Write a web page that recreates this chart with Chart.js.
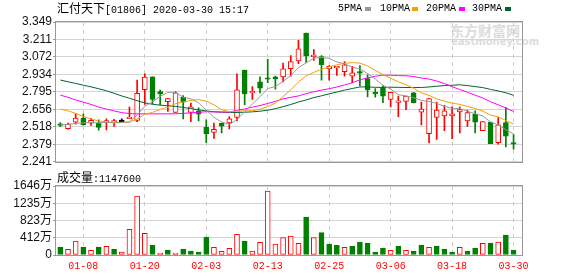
<!DOCTYPE html>
<html><head><meta charset="utf-8">
<script src="https://cdn.jsdelivr.net/npm/chart.js@4.4.1/dist/chart.umd.min.js"></script>
<style>
html,body{margin:0;padding:0;background:#fff;}
#wrap{position:relative;width:578px;height:276px;overflow:hidden;background:#fff;}
canvas{position:absolute;left:0;}
.t{position:absolute;white-space:nowrap;font-family:"Liberation Mono",monospace;font-size:10px;line-height:14px;color:#000;}
.c{font-family:"Noto Sans CJK SC";font-size:12px;}
.sq{position:absolute;width:6px;height:4px;}
.wm{position:absolute;white-space:nowrap;color:#dcdcdc;font-family:"Noto Sans CJK SC";font-weight:bold;}
</style></head>
<body><div id="wrap">
<div class="wm" style="left:450px;top:21px;font-size:14px;line-height:18px;">东方财富网</div>
<div class="wm" style="left:451px;top:37px;font-size:10px;line-height:10px;font-family:'DejaVu Sans';">eastmoney.com</div>
<canvas id="k" width="578" height="170" style="top:0"></canvas>
<canvas id="v" width="578" height="106" style="top:170px"></canvas>
<div class="t" style="left:57px;top:1px"><span class="c">汇付天下</span>[01806] 2020-03-30 15:17</div>
<div class="t" style="left:338px;top:2px">5PMA</div><div class="sq" style="left:365px;top:7px;background:#999"></div>
<div class="t" style="left:380px;top:2px">10PMA</div><div class="sq" style="left:412px;top:7px;background:#f5a000"></div>
<div class="t" style="left:426px;top:2px">20PMA</div><div class="sq" style="left:459px;top:7px;background:#ff00ff"></div>
<div class="t" style="left:472px;top:2px">30PMA</div><div class="sq" style="left:505px;top:7px;background:#00662e"></div>
<div class="t" style="left:57px;top:170px"><span class="c">成交量</span>:1147600</div>
</div>
<script>
const dates = ["2020-01-03","2020-01-06","2020-01-07","2020-01-08","2020-01-09","2020-01-10","2020-01-13","2020-01-14","2020-01-15","2020-01-16","2020-01-17","2020-01-20","2020-01-21","2020-01-22","2020-01-23","2020-01-24","2020-01-29","2020-01-30","2020-01-31",
"2020-02-03","2020-02-04","2020-02-05","2020-02-06","2020-02-07","2020-02-10","2020-02-11","2020-02-12","2020-02-13","2020-02-14","2020-02-17","2020-02-18","2020-02-19","2020-02-20","2020-02-21","2020-02-24","2020-02-25","2020-02-26","2020-02-27","2020-02-28",
"2020-03-02","2020-03-03","2020-03-04","2020-03-05","2020-03-06","2020-03-09","2020-03-10","2020-03-11","2020-03-12","2020-03-13","2020-03-16","2020-03-17","2020-03-18","2020-03-19","2020-03-20","2020-03-23","2020-03-24","2020-03-25","2020-03-26","2020-03-27","2020-03-30"];
const opens  = [2.542,2.503,2.555,2.586,2.547,2.545,2.555,2.556,2.560,2.583,2.568,2.812,2.915,2.797,2.717,2.632,2.753,2.632,2.642,2.514,2.473,2.545,2.550,2.593,2.967,2.787,2.874,2.907,2.915,2.913,2.979,3.041,3.262,3.075,3.075,2.977,2.985,2.956,2.920,2.956,2.900,2.787,2.830,2.735,2.712,2.720,2.787,2.635,2.463,2.593,2.604,2.604,2.637,2.565,2.619,2.488,2.555,2.393,2.552,2.393];
const highs  = [2.552,2.547,2.622,2.619,2.586,2.573,2.581,2.578,2.581,2.675,2.889,2.938,2.915,2.810,2.745,2.797,2.766,2.707,2.668,2.573,2.547,2.547,2.599,2.938,2.967,2.838,2.915,3.054,2.920,3.023,3.082,3.203,3.262,3.131,3.082,3.003,2.990,3.036,2.997,3.003,2.930,2.822,2.843,2.792,2.761,2.761,2.792,2.714,2.745,2.714,2.689,2.676,2.676,2.650,2.645,2.560,2.555,2.591,2.671,2.457];
const lows   = [2.519,2.500,2.540,2.532,2.529,2.491,2.493,2.521,2.555,2.583,2.560,2.696,2.699,2.694,2.640,2.632,2.581,2.560,2.565,2.393,2.426,2.470,2.501,2.565,2.694,2.735,2.787,2.869,2.817,2.874,2.920,3.018,3.026,3.044,2.887,2.887,2.925,2.920,2.869,2.843,2.755,2.753,2.709,2.676,2.599,2.655,2.707,2.534,2.390,2.419,2.488,2.424,2.470,2.521,2.470,2.488,2.385,2.380,2.359,2.341];
const closes = [2.530,2.537,2.588,2.534,2.570,2.514,2.565,2.560,2.560,2.588,2.784,2.913,2.735,2.779,2.743,2.787,2.714,2.676,2.619,2.462,2.498,2.524,2.581,2.812,2.779,2.794,2.825,2.895,2.897,2.977,3.036,3.136,3.080,3.082,3.011,2.997,2.990,3.010,2.946,2.944,2.810,2.779,2.761,2.792,2.722,2.761,2.709,2.658,2.743,2.650,2.645,2.622,2.655,2.632,2.555,2.560,2.385,2.534,2.444,2.380];
const prevClose = 2.56;
const volumes = [191,135,334,191,111,191,207,135,72,612,1407,517,239,48,119,48,143,95,72,429,183,87,159,493,334,95,302,1527,262,413,453,278,906,413,533,262,231,183,215,310,286,72,167,111,215,111,95,239,183,215,143,72,183,95,167,278,286,310,477,114.76];
const ma5  = [2.535,2.538,2.545,2.550,2.552,2.549,2.554,2.549,2.554,2.557,2.611,2.681,2.716,2.760,2.791,2.791,2.752,2.740,2.708,2.652,2.594,2.556,2.537,2.575,2.639,2.698,2.758,2.821,2.838,2.878,2.926,2.988,3.025,3.062,3.069,3.061,3.032,3.018,2.991,2.977,2.940,2.898,2.848,2.817,2.773,2.763,2.749,2.728,2.719,2.704,2.681,2.664,2.663,2.641,2.622,2.605,2.557,2.533,2.496,2.461];
const ma10 = [2.658,2.645,2.625,2.600,2.580,2.565,2.555,2.552,2.553,2.555,2.580,2.618,2.632,2.657,2.674,2.701,2.716,2.728,2.734,2.721,2.693,2.654,2.638,2.642,2.645,2.646,2.657,2.679,2.707,2.758,2.812,2.873,2.923,2.950,2.973,2.994,3.010,3.022,3.027,3.023,3.001,2.965,2.933,2.904,2.875,2.852,2.823,2.788,2.768,2.739,2.722,2.706,2.696,2.680,2.663,2.643,2.611,2.598,2.568,2.541];
const ma20 = [2.770,2.752,2.731,2.714,2.696,2.675,2.659,2.644,2.631,2.623,2.621,2.621,2.621,2.621,2.621,2.622,2.625,2.629,2.633,2.638,2.636,2.636,2.635,2.649,2.660,2.674,2.687,2.703,2.720,2.740,2.752,2.763,2.781,2.796,2.809,2.820,2.834,2.850,2.867,2.891,2.906,2.919,2.928,2.927,2.924,2.923,2.917,2.905,2.897,2.881,2.861,2.836,2.814,2.792,2.769,2.747,2.717,2.693,2.668,2.640];
const ma30 = [2.889,2.875,2.862,2.848,2.835,2.820,2.804,2.784,2.763,2.745,2.725,2.708,2.697,2.690,2.685,2.680,2.672,2.662,2.652,2.644,2.638,2.634,2.632,2.632,2.634,2.637,2.642,2.650,2.662,2.678,2.695,2.715,2.731,2.750,2.764,2.780,2.794,2.809,2.822,2.834,2.835,2.831,2.831,2.832,2.831,2.830,2.830,2.830,2.834,2.840,2.845,2.848,2.851,2.845,2.837,2.829,2.815,2.803,2.788,2.768];
const priceTicks = [2.241,2.379,2.518,2.656,2.795,2.934,3.072,3.211,3.349];
const volumeTicks = [0,412,823,1235,1646];
const labelIdx = [3,11,19,27,35,43,51,59];

const UP='#ff0000', DOWN='#008000', FLAT='#000000';
const candleCol = closes.map((c,i)=> c>opens[i]?UP:(c<opens[i]?DOWN:FLAT));
const bodyFill = closes.map((c,i)=> c>opens[i]?'#ffffff':candleCol[i]);
const volIsUp = closes.map((c,i)=> c >= (i===0?prevClose:closes[i-1]));
const volFill = volIsUp.map(u=>u?'#ffffff':DOWN);
const volLine = volIsUp.map(u=>u?UP:DOWN);
const xMin=-0.56, xMax=60.1;

const frame = {id:'frame', afterDatasetsDraw(chart){
  const a=chart.chartArea, c=chart.ctx; c.save(); c.strokeStyle='#999'; c.lineWidth=1;
  c.strokeRect(Math.round(a.left)-0.5, Math.round(a.top)-0.5, Math.round(a.right)-Math.round(a.left)+1, Math.round(a.bottom)-Math.round(a.top)+1);
  c.restore();
}};
const yFont={family:'"Liberation Sans", "Noto Sans CJK SC", sans-serif', size:12};
function line(arr,color){return {type:'line',data:arr.map((v,i)=>({x:i,y:v})),borderColor:color,borderWidth:1,pointRadius:0,tension:0,order:0};}

new Chart(document.getElementById('k'),{
  type:'bar',
  data:{datasets:[
    line(ma5,'#999999'), line(ma10,'#f5a000'), line(ma20,'#ff00ff'), line(ma30,'#00662e'),
    {type:'bar',data:opens.map((o,i)=>({x:i,y:[o,closes[i]]})),backgroundColor:bodyFill,borderColor:candleCol,borderWidth:1,borderSkipped:false,barThickness:5,minBarLength:1.5,grouped:false,order:1},
    {type:'bar',data:lows.map((l,i)=>({x:i,y:[l,highs[i]]})),backgroundColor:candleCol,borderWidth:0,barThickness:1,grouped:false,order:2}
  ]},
  options:{responsive:false,animation:false,devicePixelRatio:1,
    layout:{padding:{top:22,right:56,bottom:5,left:0}},
    plugins:{legend:{display:false},tooltip:{enabled:false}},
    scales:{
      x:{type:'linear',min:xMin,max:xMax,offset:false,grid:{color:'#cccccc',drawTicks:false,offset:false},border:{display:false,dash:[4,4]},ticks:{display:false},
         afterBuildTicks:s=>{s.ticks=labelIdx.map(v=>({value:v}));},afterFit:s=>{s.height=0;}},
      y:{min:2.241,max:3.349,grid:{color:'#d4d4d4',tickLength:3,tickColor:'#999'},border:{display:false},
         ticks:{padding:1,color:'#111',font:yFont,autoSkip:false,callback:v=>Number(v).toFixed(3)},
         afterBuildTicks:s=>{s.ticks=priceTicks.map(v=>({value:v}));},afterFit:s=>{s.width=56;}}
    }},
  plugins:[frame]
});

new Chart(document.getElementById('v'),{
  type:'bar',
  data:{datasets:[{data:volumes.map((v,i)=>({x:i,y:v})),backgroundColor:volFill,borderColor:volLine,borderWidth:1,borderSkipped:false,barThickness:5,grouped:false}]},
  options:{responsive:false,animation:false,devicePixelRatio:1,
    layout:{padding:{top:16,right:56,bottom:0,left:0}},
    plugins:{legend:{display:false},tooltip:{enabled:false}},
    scales:{
      x:{type:'linear',min:xMin,max:xMax,offset:false,grid:{color:'#cccccc',drawTicks:false,offset:false},border:{display:false,dash:[4,4]},
         ticks:{color:'#ff0000',padding:5,maxRotation:0,autoSkip:false,font:{family:'"Liberation Mono", monospace',size:10},callback:v=>dates[v]?dates[v].slice(5):''},
         afterBuildTicks:s=>{s.ticks=labelIdx.map(v=>({value:v}));},afterFit:s=>{s.height=21;}},
      y:{min:0,max:1646,grid:{color:'#d4d4d4',tickLength:3,tickColor:'#999'},border:{display:false},
         ticks:{padding:1,color:'#111',font:yFont,autoSkip:false,callback:v=>v===0?'0':v+'万'},
         afterBuildTicks:s=>{s.ticks=volumeTicks.map(v=>({value:v}));},afterFit:s=>{s.width=56;}}
    }},
  plugins:[frame]
});
</script>
</body></html>
